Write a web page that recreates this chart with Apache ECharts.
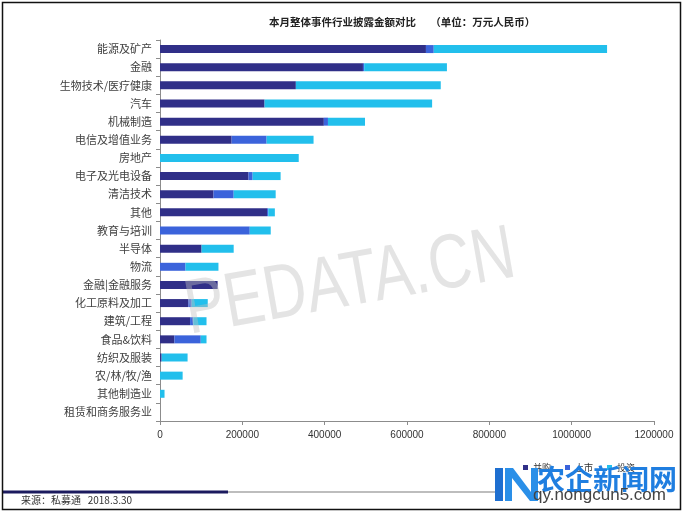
<!DOCTYPE html>
<html>
<head>
<meta charset="utf-8">
<script src="https://cdn.jsdelivr.net/npm/echarts@6/dist/echarts.min.js"></script>
<style>
html,body{margin:0;padding:0;background:#fff;}
#main{width:685px;height:513px;}
</style>
</head>
<body>
<div id="main"></div>
<script>
var categories = ['能源及矿产','金融','生物技术/医疗健康','汽车','机械制造','电信及增值业务','房地产','电子及光电设备','清洁技术','其他','教育与培训','半导体','物流','金融|金融服务','化工原料及加工','建筑/工程','食品&饮料','纺织及服装','农/林/牧/渔','其他制造业','租赁和商务服务业'];
var seriesNames = ['并购','上市','投资'];
var mergeValues = [646000, 493000, 330000, 254000, 398000, 174000, 0, 215000, 130000, 260000, 0, 101000, 0, 140000, 69000, 73000, 35000, 4000, 0, 0, 0];
var ipoValues = [19000, 3000, 0, 0, 10000, 85000, 0, 10000, 49000, 3000, 218000, 0, 62000, 0, 8000, 8000, 64000, 0, 0, 0, 0];
var investValues = [421000, 201000, 352000, 407000, 90000, 114000, 337000, 68000, 102000, 16000, 51000, 78000, 80000, 0, 39000, 32000, 14000, 63000, 55000, 11000, 0];
var xTicks = [0, 200000, 400000, 600000, 800000, 1000000, 1200000];
var titleText = '本月整体事件行业披露金额对比      （单位：万元人民币）';
var sourceText = '来源：私募通   2018.3.30';

var colors = ['#302F88', '#3B63DB', '#22BFEC'];
var chart = echarts.init(document.getElementById('main'), null, {renderer: 'canvas'});
var cjk = '"Noto Sans CJK SC", sans-serif';

function mk(name, data, color) {
  return {
    name: name, type: 'bar', stack: 'total', data: data, barWidth: 8,
    itemStyle: {color: color}, emphasis: {disabled: true}
  };
}

chart.setOption({
  animation: false,
  backgroundColor: '#fff',
  title: {
    text: titleText, left: 264, top: 12,
    textStyle: {fontFamily: cjk, fontSize: 10.5, fontWeight: 'bold', color: '#222'}
  },
  legend: {
    data: seriesNames, left: 518, top: 458, itemWidth: 5, itemHeight: 5, itemGap: 14,
    icon: 'rect', textStyle: {fontFamily: cjk, fontSize: 9, color: '#333'}
  },
  grid: {left: 160, right: 31, top: 40, bottom: 92, containLabel: false},
  xAxis: {
    type: 'value', min: xTicks[0], max: xTicks[xTicks.length - 1], interval: 200000,
    axisLine: {show: true, lineStyle: {color: '#8c8c8c', width: 1}},
    axisTick: {show: true, length: 4, lineStyle: {color: '#8c8c8c'}},
    splitLine: {show: false},
    axisLabel: {fontFamily: 'Arial, "Liberation Sans", sans-serif', fontSize: 10, color: '#333', margin: 9,
      formatter: function (v) { return String(v); }}
  },
  yAxis: {
    type: 'category', data: categories, inverse: true,
    axisLine: {show: true, lineStyle: {color: '#8c8c8c', width: 1}},
    axisTick: {show: true, length: 4, lineStyle: {color: '#8c8c8c'}},
    axisLabel: {fontFamily: cjk, fontSize: 11, color: '#404040', margin: 8}
  },
  series: [
    mk(seriesNames[0], mergeValues, colors[0]),
    mk(seriesNames[1], ipoValues, colors[1]),
    mk(seriesNames[2], investValues, colors[2])
  ],
  graphic: [
    {type: 'rect', shape: {x: 2.5, y: 2.5, width: 678, height: 507}, style: {fill: 'none', stroke: '#111', lineWidth: 1.5}, z: 100},
    {type: 'text', x: 350, y: 284, rotation: 10 * Math.PI / 180, scaleX: 0.95, scaleY: 1.22, z: 50,
      style: {text: 'PEDATA.CN', font: '63px Arial, "Liberation Sans", sans-serif', fill: 'rgba(190,190,190,0.42)', align: 'center', verticalAlign: 'middle'}},
    {type: 'line', shape: {x1: 3, y1: 492, x2: 228, y2: 492}, style: {stroke: '#1b1a5e', lineWidth: 3}, z: 60},
    {type: 'line', shape: {x1: 228, y1: 492, x2: 500, y2: 492}, style: {stroke: '#bdbdbd', lineWidth: 2}, z: 60},
    {type: 'text', x: 21, y: 495, z: 60,
      style: {text: sourceText, font: '10px "Noto Sans CJK SC", sans-serif', fill: '#333'}},
    {type: 'rect', shape: {x: 495, y: 468, width: 8, height: 33}, style: {fill: '#1e6fd0'}, z: 70},
    {type: 'polygon', shape: {points: [[505, 468], [513, 468], [531, 492], [531, 468], [538, 468], [538, 501], [530, 501], [512, 478], [512, 501], [505, 501]]}, style: {fill: '#2a8fe8'}, z: 70},
    {type: 'text', x: 537, y: 465, z: 70,
      style: {text: '农企新闻网', font: 'bold 28px "Noto Sans CJK SC", sans-serif', fill: '#1f7ee0'}},
    {type: 'text', x: 533, y: 487, z: 71,
      style: {text: 'qy.nongcun5.com', font: '17px Arial, "Liberation Sans", sans-serif', fill: '#444'}}
  ]
});
</script>
</body>
</html>
